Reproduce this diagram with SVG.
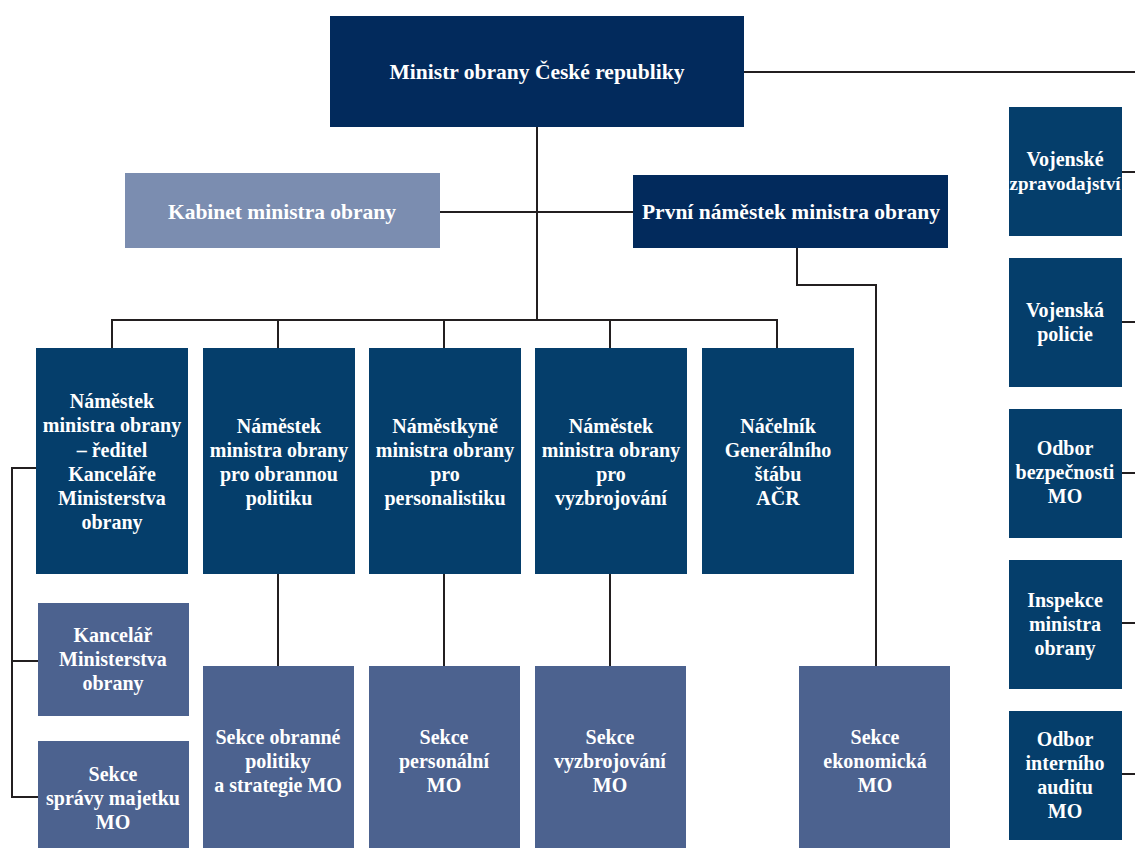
<svg xmlns="http://www.w3.org/2000/svg" width="1135" height="848" viewBox="0 0 1135 848">
<style>
.t{font-family:"Liberation Serif","DejaVu Serif",serif;font-weight:bold;font-size:20px;fill:#ffffff;text-anchor:middle}
.big{font-size:21.5px}
.top{fill:#022a5c}
.mid{fill:#053e6b}
.low{fill:#4c628f}
.kab{fill:#7b8db0}
.c{stroke:#231f20;stroke-width:2;fill:none}
</style>
<rect width="1135" height="848" fill="#ffffff"/>
<g id="connectors" class="c">
<path d="M744 72H1135"/>
<path d="M537 127V320"/>
<path d="M440 212H633"/>
<path d="M112 348V320H777V348"/>
<path d="M278 320V348M444 320V348M610 320V348"/>
<path d="M797 248V285H876V666"/>
<path d="M36 468H12V797H38M12 661H38"/>
<path d="M278 574V666M444 574V666M610 574V666"/>
<path d="M1122 172H1135M1122 322H1135M1122 473H1135M1122 623H1135M1122 774H1135"/>
</g>
<g id="minister"><rect class="top" x="330" y="16" width="414" height="111"/><text class="t big" x="537" y="79">Ministr obrany České republiky</text></g>
<g id="kabinet"><rect class="kab" x="125" y="173" width="315" height="75"/><text class="t big" x="282" y="219">Kabinet ministra obrany</text></g>
<g id="prvni"><rect class="top" x="633" y="175" width="315" height="73"/><text class="t big" x="791" y="219">První náměstek ministra obrany</text></g>
<g id="nam-kancelar"><rect class="mid" x="36" y="348" width="152" height="226"/><text class="t" x="112"><tspan x="112" y="408">Náměstek</tspan><tspan x="112" y="432">ministra obrany</tspan><tspan x="112" y="457">– ředitel</tspan><tspan x="112" y="481">Kanceláře</tspan><tspan x="112" y="505">Ministerstva</tspan><tspan x="112" y="529">obrany</tspan></text></g>
<g id="nam-politika"><rect class="mid" x="203" y="348" width="152" height="226"/><text class="t"><tspan x="279" y="433">Náměstek</tspan><tspan x="279" y="457">ministra obrany</tspan><tspan x="279" y="481">pro obrannou</tspan><tspan x="279" y="505">politiku</tspan></text></g>
<g id="nam-personal"><rect class="mid" x="369" y="348" width="152" height="226"/><text class="t"><tspan x="445" y="433">Náměstkyně</tspan><tspan x="445" y="457">ministra obrany</tspan><tspan x="445" y="481">pro</tspan><tspan x="445" y="505">personalistiku</tspan></text></g>
<g id="nam-vyzbroj"><rect class="mid" x="535" y="348" width="152" height="226"/><text class="t"><tspan x="611" y="433">Náměstek</tspan><tspan x="611" y="457">ministra obrany</tspan><tspan x="611" y="481">pro</tspan><tspan x="611" y="505">vyzbrojování</tspan></text></g>
<g id="nacelnik"><rect class="mid" x="702" y="348" width="152" height="226"/><text class="t"><tspan x="778" y="433">Náčelník</tspan><tspan x="778" y="457">Generálního</tspan><tspan x="778" y="481">štábu</tspan><tspan x="778" y="505">AČR</tspan></text></g>
<g id="kancelar"><rect class="low" x="38" y="603" width="151" height="113"/><text class="t"><tspan x="113" y="642">Kancelář</tspan><tspan x="113" y="666">Ministerstva</tspan><tspan x="113" y="690">obrany</tspan></text></g>
<g id="sekce-majetek"><rect class="low" x="38" y="741" width="151" height="117"/><text class="t"><tspan x="113" y="781">Sekce</tspan><tspan x="113" y="805">správy majetku</tspan><tspan x="113" y="829">MO</tspan></text></g>
<g id="sekce-politika"><rect class="low" x="203" y="666" width="151" height="192"/><text class="t"><tspan x="278" y="744">Sekce obranné</tspan><tspan x="278" y="768">politiky</tspan><tspan x="278" y="792">a strategie MO</tspan></text></g>
<g id="sekce-personal"><rect class="low" x="369" y="666" width="151" height="192"/><text class="t"><tspan x="444" y="744">Sekce</tspan><tspan x="444" y="768">personální</tspan><tspan x="444" y="792">MO</tspan></text></g>
<g id="sekce-vyzbroj"><rect class="low" x="535" y="666" width="151" height="192"/><text class="t"><tspan x="610" y="744">Sekce</tspan><tspan x="610" y="768">vyzbrojování</tspan><tspan x="610" y="792">MO</tspan></text></g>
<g id="sekce-ekonom"><rect class="low" x="799" y="666" width="151" height="192"/><text class="t"><tspan x="875" y="744">Sekce</tspan><tspan x="875" y="768">ekonomická</tspan><tspan x="875" y="792">MO</tspan></text></g>
<g id="vojenske-zpravodajstvi"><rect class="mid" x="1009" y="107" width="113" height="129"/><text class="t"><tspan x="1065" y="166">Vojenské</tspan><tspan x="1065" y="190" style="font-size:19px">zpravodajství</tspan></text></g>
<g id="vojenska-policie"><rect class="mid" x="1009" y="258" width="113" height="129"/><text class="t"><tspan x="1065" y="317">Vojenská</tspan><tspan x="1065" y="341">policie</tspan></text></g>
<g id="odbor-bezpecnosti"><rect class="mid" x="1009" y="409" width="113" height="129"/><text class="t"><tspan x="1065" y="455">Odbor</tspan><tspan x="1065" y="479">bezpečnosti</tspan><tspan x="1065" y="503">MO</tspan></text></g>
<g id="inspekce"><rect class="mid" x="1009" y="560" width="113" height="129"/><text class="t"><tspan x="1065" y="607">Inspekce</tspan><tspan x="1065" y="631">ministra</tspan><tspan x="1065" y="655">obrany</tspan></text></g>
<g id="interni-audit"><rect class="mid" x="1009" y="711" width="113" height="129"/><text class="t"><tspan x="1065" y="746">Odbor</tspan><tspan x="1065" y="770">interního</tspan><tspan x="1065" y="794">auditu</tspan><tspan x="1065" y="818">MO</tspan></text></g>
</svg>
